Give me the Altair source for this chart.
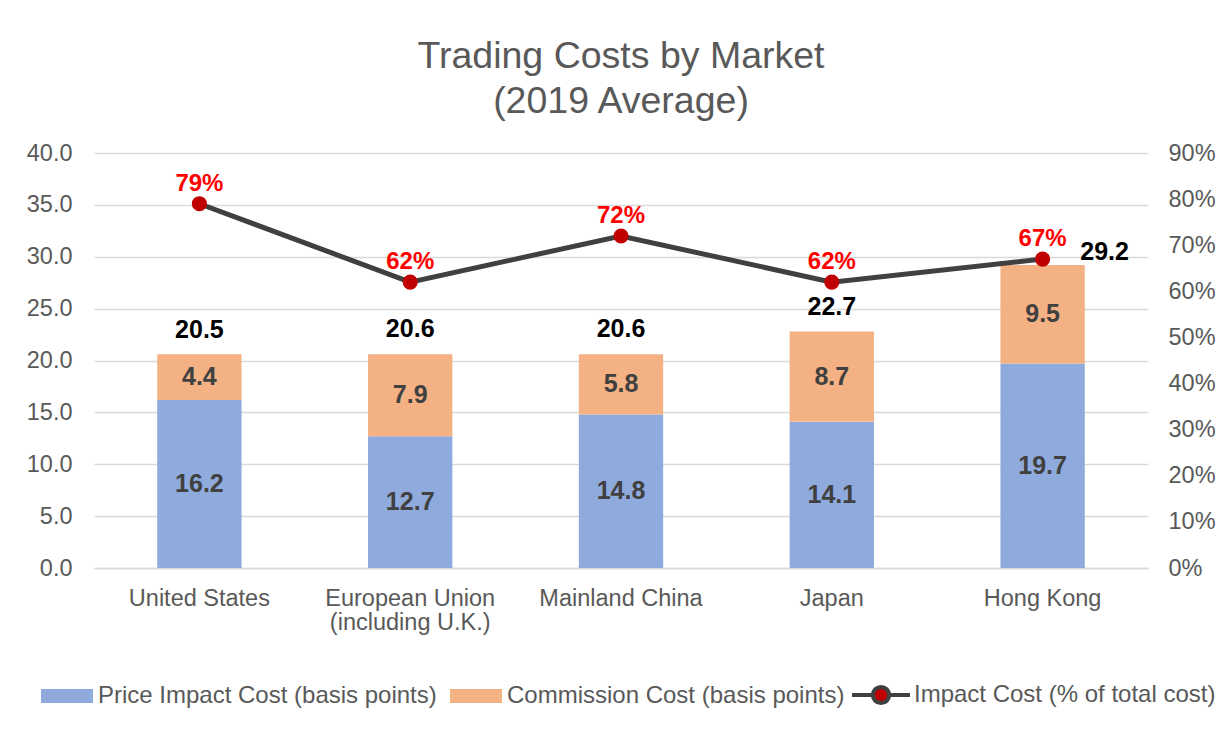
import altair as alt
import pandas as pd

markets = ["United States", "European Union (including U.K.)", "Mainland China", "Japan", "Hong Kong"]
price_impact = [16.2, 12.7, 14.8, 14.1, 19.7]
commission = [4.4, 7.9, 5.8, 8.7, 9.5]
total_cost = [20.5, 20.6, 20.6, 22.7, 29.2]
impact_share = [0.79, 0.62, 0.72, 0.62, 0.67]

S1 = "Price Impact Cost (basis points)"
S2 = "Commission Cost (basis points)"
S3 = "Impact Cost (% of total cost)"

FONT = "Liberation Sans"
GREY = "#595959"

bars_df = pd.DataFrame({
    "market": markets * 2,
    "series": [S1] * 5 + [S2] * 5,
    "value": price_impact + commission,
    "rank": [0] * 5 + [1] * 5,
})
summary_df = pd.DataFrame({
    "market": markets,
    "total": total_cost,
    "share": impact_share,
    "line": [S3] * 5,
})

x_enc = alt.X(
    "market:N", sort=markets,
    scale=alt.Scale(paddingInner=0.6, paddingOuter=0.3),
    axis=alt.Axis(
        title=None, labelAngle=0, ticks=False, domain=True, domainColor="#D9D9D9",
        domainWidth=1.3, grid=False, labelPadding=18, labelLineHeight=24,
        labelExpr="datum.label == 'European Union (including U.K.)' ? ['European Union', '(including U.K.)'] : datum.label",
    ),
)

left_axis = alt.Axis(
    title=None, values=[0, 5, 10, 15, 20, 25, 30, 35, 40], format=".1f",
    ticks=False, domain=False, grid=True, gridColor="#D9D9D9", gridWidth=1.3,
    labelPadding=22,
)
right_axis = alt.Axis(
    title=None, orient="right", values=[0, 0.1, 0.2, 0.3, 0.4, 0.5, 0.6, 0.7, 0.8, 0.9],
    format=".0%", ticks=False, domain=False, grid=False, labelPadding=20,
)
left_scale = alt.Scale(domain=[0, 40])
right_scale = alt.Scale(domain=[0, 0.9])

bars = alt.Chart(bars_df).mark_bar().encode(
    x=x_enc,
    y=alt.Y("value:Q", stack="zero", scale=left_scale, axis=left_axis),
    color=alt.Color(
        "series:N",
        scale=alt.Scale(domain=[S1, S2], range=["#8FAADC", "#F4B183"]),
        legend=alt.Legend(
            title=None, orient="none", legendX=-53, legendY=517, direction="horizontal",
            symbolType="M-1,-0.27H1V0.27H-1Z", symbolSize=2704,
            symbolStrokeWidth=0, symbolOpacity=1, columnPadding=13,
        ),
    ),
    order=alt.Order("rank:Q"),
)

seg_labels = alt.Chart(bars_df).transform_stack(
    stack="value", groupby=["market"], sort=[alt.SortField("rank")], as_=["y0", "y1"]
).transform_calculate(
    mid="(datum.y0 + datum.y1) / 2"
).mark_text(font=FONT, fontSize=25, fontWeight="bold", color="#404040").encode(
    x=x_enc,
    y=alt.Y("mid:Q", scale=left_scale, axis=left_axis),
    text=alt.Text("value:Q", format=".1f"),
)

total_labels = alt.Chart(summary_df).transform_filter(
    "datum.market != 'Hong Kong'"
).mark_text(font=FONT, fontSize=25, fontWeight="bold", color="#000000", dy=-25).encode(
    x=x_enc,
    y=alt.Y("total:Q", scale=left_scale, axis=left_axis),
    text=alt.Text("total:Q", format=".1f"),
)

total_label_hk = alt.Chart(summary_df).transform_filter(
    "datum.market == 'Hong Kong'"
).mark_text(font=FONT, fontSize=25, fontWeight="bold", color="#000000", dx=62, dy=-13).encode(
    x=x_enc,
    y=alt.Y("total:Q", scale=left_scale, axis=left_axis),
    text=alt.Text("total:Q", format=".1f"),
)

line = alt.Chart(summary_df).mark_line(strokeWidth=5).encode(
    x=x_enc,
    y=alt.Y("share:Q", scale=right_scale, axis=right_axis),
    stroke=alt.Stroke(
        "line:N",
        scale=alt.Scale(domain=[S3], range=["#404040"]),
        legend=alt.Legend(
            title=None, orient="none", legendX=756, legendY=511, direction="horizontal",
            symbolType="M-1,0H-0.28M0.28,0H1M0.28,0A0.28,0.28 0 1,1 -0.28,0A0.28,0.28 0 1,1 0.28,0Z",
            symbolSize=3364, symbolStrokeWidth=4, symbolFillColor="#C00000", labelOffset=2,
        ),
    ),
)

points = alt.Chart(summary_df).mark_circle(size=230, color="#C00000", opacity=1).encode(
    x=x_enc,
    y=alt.Y("share:Q", scale=right_scale, axis=right_axis),
)

pct_labels = alt.Chart(summary_df).mark_text(
    font=FONT, fontSize=24, fontWeight="bold", color="#FF0000", dy=-20
).encode(
    x=x_enc,
    y=alt.Y("share:Q", scale=right_scale, axis=right_axis),
    text=alt.Text("share:Q", format=".0%"),
)

left = alt.layer(bars, seg_labels, total_labels, total_label_hk)
right = alt.layer(line, points, pct_labels)

chart = alt.layer(left, right).resolve_scale(
    y="independent"
).properties(
    width=1054, height=415,
    padding={"left": 18, "right": 0, "top": 29, "bottom": 5},
    title=alt.Title(
        ["Trading Costs by Market", "(2019 Average)"],
        font=FONT, fontSize=37.5, fontWeight="normal", color=GREY, lineHeight=45, offset=21,
    ),
).configure_view(
    stroke=None
).configure_axis(
    labelFont=FONT, labelFontSize=23.5, labelColor=GREY,
).configure_legend(
    labelFont=FONT, labelFontSize=24, labelColor=GREY, labelOffset=5, labelLimit=500,
)

chart.save("out.html", embed_options={"renderer": "svg", "actions": False})
